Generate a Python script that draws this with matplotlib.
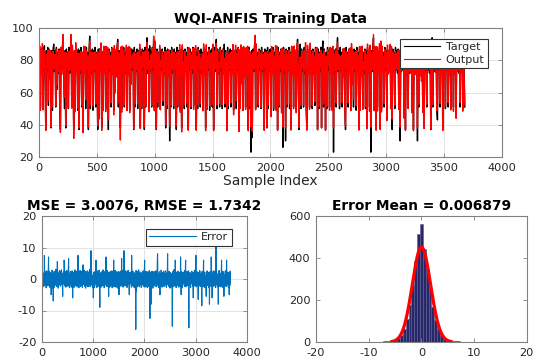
import numpy as np
import matplotlib
matplotlib.use('Agg')
import matplotlib.pyplot as plt

plt.rcParams['font.family'] = ['DejaVu Sans']
plt.rcParams['axes.unicode_minus'] = False

# Target WQI values (one value per ~5.75 samples)
target = [
    80, 87, 51, 86, 73, 88, 50, 85, 89, 72, 37, 86, 74, 88, 52, 87, 71, 85, 38, 86,
    49, 87, 90, 73, 86, 51, 88, 62, 85, 72, 87, 50, 37, 86, 74, 88, 93, 72, 50, 86,
    38, 87, 73, 85, 50, 88, 72, 86, 94, 51, 87, 74, 37, 85, 50, 88, 73, 86, 49, 87,
    37, 86, 72, 88, 51, 85, 38, 87, 73, 86, 50, 88, 74, 85, 37, 87, 95, 50, 86, 72,
    87, 49, 86, 73, 88, 51, 85, 72, 37, 87, 50, 86, 74, 88, 38, 85, 51, 87, 73, 86,
    50, 88, 72, 86, 37, 87, 74, 85, 51, 88, 73, 86, 49, 87, 60, 85, 72, 88, 93, 51,
    86, 73, 38, 87, 50, 86, 74, 88, 51, 85, 72, 87, 50, 86, 73, 88, 49, 85, 66, 87,
    74, 86, 37, 88, 51, 85, 73, 87, 50, 86, 72, 88, 38, 85, 50, 87, 74, 86, 37, 88,
    51, 85, 94, 72, 87, 50, 89, 73, 86, 51, 88, 74, 93, 50, 86, 72, 37, 87, 51, 85,
    73, 88, 50, 86, 74, 87, 52, 85, 72, 88, 38, 86, 50, 87, 73, 85, 30, 86, 51, 88,
    72, 86, 50, 87, 74, 85, 37, 88, 51, 86, 73, 87, 49, 85, 38, 88, 72, 86, 50, 87,
    73, 85, 51, 88, 37, 86, 74, 87, 50, 85, 72, 88, 52, 86, 73, 87, 37, 85, 50, 88,
    74, 86, 51, 87, 72, 85, 50, 88, 73, 86, 38, 87, 50, 85, 74, 88, 49, 86, 72, 87,
    51, 85, 37, 88, 73, 86, 93, 50, 87, 72, 85, 51, 88, 74, 86, 50, 87, 73, 90, 51,
    86, 72, 37, 88, 50, 85, 74, 87, 51, 86, 73, 88, 49, 85, 72, 87, 50, 86, 74, 88,
    38, 85, 51, 87, 73, 86, 50, 88, 72, 85, 51, 87, 74, 86, 37, 88, 50, 85, 23, 86,
    32, 87, 73, 86, 93, 50, 88, 72, 85, 51, 87, 74, 86, 50, 88, 73, 85, 51, 37, 87,
    74, 86, 38, 88, 50, 85, 73, 87, 51, 86, 72, 88, 49, 85, 74, 87, 50, 86, 37, 88,
    51, 85, 73, 87, 50, 86, 26, 88, 72, 85, 30, 87, 51, 86, 74, 88, 50, 85, 37, 87,
    73, 86, 51, 88, 72, 85, 50, 87, 93, 74, 37, 86, 90, 50, 87, 73, 85, 51, 88, 72,
    86, 50, 37, 87, 74, 85, 51, 88, 73, 86, 50, 87, 72, 85, 52, 88, 74, 86, 37, 87,
    50, 85, 73, 88, 38, 86, 92, 51, 87, 72, 37, 85, 50, 88, 74, 86, 51, 87, 73, 85,
    50, 88, 23, 86, 72, 87, 51, 85, 94, 73, 86, 50, 88, 74, 85, 51, 87, 72, 86, 50,
    37, 88, 73, 85, 51, 87, 74, 86, 50, 88, 72, 85, 51, 87, 73, 86, 49, 88, 74, 85,
    37, 87, 50, 86, 73, 88, 51, 85, 72, 87, 50, 86, 38, 88, 74, 85, 51, 87, 23, 86,
    73, 88, 94, 50, 86, 72, 37, 87, 51, 85, 74, 88, 38, 86, 50, 87, 73, 85, 51, 88,
    74, 86, 50, 87, 73, 85, 75, 88, 51, 86, 37, 87, 73, 85, 50, 88, 74, 86, 72, 87,
    51, 85, 30, 87, 73, 86, 74, 88, 50, 85, 37, 87, 73, 86, 51, 88, 72, 85, 74, 87,
    50, 86, 37, 88, 73, 85, 74, 87, 30, 86, 51, 88, 72, 85, 74, 87, 50, 86, 38, 88,
    73, 85, 51, 87, 74, 86, 72, 88, 37, 85, 94, 51, 87, 73, 86, 74, 88, 50, 43, 86,
    74, 87, 51, 85, 73, 88, 37, 86, 72, 87, 50, 85, 74, 88, 51, 86, 73, 87, 50, 85,
    74, 88, 51, 86, 73, 87, 50, 85, 74, 88, 72, 86, 51, 87, 73, 85, 50, 86, 74, 51,
]

# Error (target - output), same sample positions
error = [
    1.2, -1.8, 2.1, -0.9, 1.6, -2.4, 0.8, -1.3, 7.5, -2.0, 0.6, 2.3, -1.5, 1.9, -2.8, 0.4, 2.6, -1.1, -0.7, 1.8,
    -2.2, 1.4, 7.0, -1.6, 2.5, -0.8, 1.1, -2.7, 2.0, -1.2, 0.9, -5.0, 1.7, -2.1, 2.8, -0.5, -3.0, 1.6, -7.0, 0.8,
    -1.4, 2.4, -2.6, 1.0, -0.6, 2.2, -1.9, 3.1, -2.0, 0.7, -2.4, 1.5, 5.5, -1.1, 2.0, -2.9, 0.6, 1.8, -1.7, 2.7,
    -0.9, 1.6, -2.3, 2.5, -1.0, 0.4, 2.9, -1.8, 1.2, -2.5, -5.5, 1.9, -0.7, 2.2, -1.6, 6.0, 3.0, -2.2, 0.9, -1.4,
    2.3, -2.6, 1.1, -0.8, 2.7, -1.9, 0.5, 1.7, -2.3, 2.0, 6.5, -1.2, 0.8, -2.8, 1.5, -0.4, 2.4, -1.7, 1.0, -2.6,
    1.9, -0.6, 2.6, -2.0, -6.0, 1.3, -1.5, 2.1, -2.7, 0.7, 1.8, -1.0, 2.9, -2.2, 0.3, -1.8, 2.4, -0.9, 2.0, -2.5,
    1.4, -2.1, 7.5, -1.3, 2.2, -2.8, 0.6, 1.9, -1.6, 2.7, -0.8, -2.4, 1.2, -1.9, 2.5, -0.5, 1.6, -2.7, 0.9, 4.5,
    -1.7, 2.0, -0.6, 2.8, -2.3, 1.1, -1.4, 2.4, -2.9, 0.7, 1.5, -2.0, 0.4, 2.6, -1.2, 1.8, -2.5, 0.9, -1.6, 2.3,
    -0.8, 1.7, 3.0, -2.4, 1.4, 2.0, 9.0, -1.9, 2.5, -1.1, 0.6, -2.6, -2.0, 1.3, -6.0, 2.1, -0.5, 1.6, -2.8, 1.0,
    2.4, -1.3, 0.8, 6.0, -2.2, 1.5, -2.7, 1.9, -0.6, 2.6, -1.8, 0.5, -2.4, 1.2, 2.8, -1.5, -9.0, 2.0, -1.1, 1.7,
    -2.6, 0.9, -1.7, 2.3, -0.7, 1.6, -2.2, 2.9, -1.4, 0.6, 2.1, -2.8, 1.3, -0.9, 2.5, -1.6, 0.8, 7.0, -2.3, 1.4,
    -1.0, 2.7, -2.4, 1.1, 0.4, -1.8, -5.5, 2.2, -1.3, 1.8, -2.6, 0.7, 2.4, -1.5, 1.0, -2.1, 0.5, 2.6, -2.8, 1.5,
    -0.7, 2.0, -1.9, 6.0, -2.5, 0.9, 1.4, -2.2, 2.7, -0.5, 1.7, -2.6, 0.6, 2.3, -1.4, 1.1, -2.9, 1.9, -0.8, 2.4,
    -1.6, -5.0, 0.7, 2.2, -1.7, 1.3, 2.5, -2.3, 1.6, -0.9, 6.5, -2.0, 1.1, -1.5, 2.8, -2.6, 0.4, 1.8, 9.0, -2.2,
    1.3, -0.6, 0.8, 2.6, -2.1, 1.7, -1.2, 2.3, -2.7, 0.5, 1.9, -1.8, 2.8, -0.9, 1.4, -2.4, -5.0, 2.1, -1.3, 0.6,
    2.2, -1.5, 0.9, -2.6, 7.5, -1.9, 1.2, -0.6, 2.5, -2.3, 1.6, -1.0, 2.0, -2.8, 0.7, 1.5, -2.0, 0.4, -16.0, 2.7,
    -4.0, 1.8, -1.4, 2.4, -2.5, 0.8, -2.2, 1.3, 2.9, -1.7, 0.6, -2.5, 1.9, -0.8, 2.2, -1.6, 1.1, -2.7, 0.5, 2.0,
    -1.9, 1.0, -0.4, 2.6, -2.3, 1.5, -1.1, 2.1, 6.0, -2.6, 0.8, 1.7, -1.5, 2.4, -0.7, -2.2, 1.3, -2.8, 0.6, 2.3,
    -1.2, 1.9, -2.4, 0.7, 2.7, -1.6, -12.5, 1.4, -2.1, 2.2, -8.0, 1.0, -1.7, 2.5, -0.6, 1.6, -2.9, 0.8, 0.3, -1.8,
    2.4, -2.2, 1.1, -0.9, 2.0, -1.4, 2.6, -2.5, 2.0, 0.5, -1.3, 6.0, 8.0, -2.0, 1.5, -2.7, 0.9, -1.2, 2.3, -1.6,
    -5.0, 1.7, 0.4, -2.3, 2.8, -1.1, 1.4, -2.6, 0.7, 2.1, -1.9, 1.2, -0.5, 2.5, -2.4, 0.9, 1.6, -2.0, 0.2, 2.6,
    -1.5, 0.8, -2.7, 1.9, -0.4, 2.2, 8.0, -1.8, 1.0, -2.3, 0.5, 2.4, -1.6, 1.3, -2.9, 0.7, 2.0, -1.1, 1.7, -2.5,
    1.2, -0.7, -15.0, 2.3, -1.9, 0.9, -2.4, 1.5, 3.0, -1.3, 2.6, -2.2, 6.0, -0.8, 1.8, -2.7, 0.6, 2.2, -1.5, 1.0,
    -2.1, 2.5, -1.0, 1.6, -2.6, 0.4, 2.0, -1.7, 1.3, -2.4, 7.0, -0.9, -5.0, 2.4, -1.5, 0.8, -2.8, 1.9, -0.6, 2.2,
    0.3, -1.6, 1.1, -2.3, 2.7, -0.8, 1.5, 6.0, -2.5, 0.9, -1.4, 2.3, 0.6, -2.1, 1.8, -1.2, 2.6, -2.4, -15.5, 1.4,
    -0.9, 2.2, -2.0, 1.3, -2.7, 1.7, 0.4, -1.5, 2.5, -0.6, 1.9, -2.3, 1.0, -6.0, 2.1, -1.8, 0.7, 2.8, -2.2, 1.2,
    -1.7, 0.5, 7.5, -2.5, 1.6, -0.8, 2.3, -1.9, 1.1, -2.6, -6.5, 2.0, -1.0, 1.4, -2.2, 2.7, -0.5, 1.8, -2.4, 0.9,
    1.5, -1.3, -8.5, 2.4, -0.7, 1.9, -2.5, 1.2, 6.0, -2.0, 0.6, -1.6, 2.2, -2.8, 1.0, 0.5, -1.4, -5.5, 2.0, -0.9,
    2.6, -2.1, 0.8, -1.5, 2.1, -2.6, 1.4, -0.6, -8.0, 2.3, -1.8, 0.9, 1.7, -2.3, 7.0, -1.1, 2.5, -6.0, 0.4, 1.8,
    -2.4, 1.1, -1.7, 2.6, -0.8, 1.5, -2.2, 2.0, -0.5, -2.7, 11.0, -1.4, 2.3, -1.9, 0.7, 1.6, -2.5, 1.2, -8.0, 2.2,
    -1.0, 2.7, -2.3, 0.9, 1.8, -1.6, 0.6, -2.5, 2.1, 6.0, -1.2, 2.4, -0.7, 1.5, -2.8, 1.0, 2.3, -5.5, 0.8, -1.9,
    1.4, -2.2, 2.6, -0.9, 1.7, -2.4, 6.0, -1.3, 0.8, 2.2, -1.8, 1.1, -2.6, 2.0, -0.5, -5.0, 1.6, -2.1, 2.5, -1.4,
]
assert len(target) == len(error)

output = [t - e for t, e in zip(target, error)]
sample_index = np.linspace(1, 3680, len(target))

# histogram of the errors (bin number k -> centre k * width), counts
bin_width = 0.54
bin_k = list(range(-30, 21))
bin_counts = [
    1, 1, 0, 0, 0, 0, 0, 1, 0, 0, 0, 0, 0, 1, 1, 2, 2, 3, 4, 5, 7, 11, 20, 35, 62,
    110, 175, 270, 385, 515, 560, 445, 350, 255, 165, 105, 60, 33, 18, 10, 8, 6, 4, 3,
    2, 2, 1, 1, 0, 0, 1,
]
err_mean = 0.006879
err_std = 1.7342
mse = 3.0076

axis_col = '#808080'
text_col = '#262626'

def style(ax, grid=True):
    for s in ax.spines.values():
        s.set_color(axis_col)
        s.set_linewidth(0.8)
    ax.tick_params(direction='in', length=3, width=0.6, color=axis_col,
                   labelsize=8.2, labelcolor=text_col, top=True, right=True, pad=4)
    if grid:
        ax.grid(True, color='#e3e3e3', linewidth=0.7)
        ax.set_axisbelow(True)

fig = plt.figure(figsize=(5.49, 3.6), dpi=100)

# top: target vs output
ax1 = fig.add_axes([0.071, 0.564, 0.843, 0.358])
ax1.plot(sample_index, target, color='black', lw=1.0, label='Target')
ax1.plot(sample_index, output, color='red', lw=1.0, label='Output')
ax1.set_xlim(0, 4000)
ax1.set_ylim(20, 100)
ax1.set_xticks(range(0, 4001, 500))
ax1.set_yticks(range(20, 101, 20))
style(ax1)
ax1.set_title('WQI-ANFIS Training Data', fontsize=9.9, fontweight='bold', pad=4)
ax1.set_xlabel('Sample Index', fontsize=10, color=text_col, labelpad=1)
leg = ax1.legend(loc='upper right', bbox_to_anchor=(0.970, 0.915), fontsize=8,
                 fancybox=False, framealpha=1, edgecolor='#333333', handlelength=3.3,
                 borderpad=0.3, labelspacing=0.2, handletextpad=0.5, borderaxespad=0)
leg.get_frame().set_linewidth(0.8)
for line in leg.get_lines():
    line.set_linewidth(0.8)
for t in leg.get_texts():
    t.set_color(text_col)

# bottom left: error
ax2 = fig.add_axes([0.0765, 0.05, 0.373, 0.35])
ax2.plot(sample_index, error, color='#0072BD', lw=0.8, label='Error')
ax2.set_xlim(0, 4000)
ax2.set_ylim(-20, 20)
ax2.set_xticks(range(0, 4001, 1000))
ax2.set_yticks(range(-20, 21, 10))
style(ax2)
ax2.set_title('MSE = %.4f, RMSE = %.4f' % (mse, err_std), fontsize=9.9,
              fontweight='bold', pad=4)
leg2 = ax2.legend(loc='upper right', bbox_to_anchor=(0.927, 0.897), fontsize=8,
                  fancybox=False, framealpha=1, edgecolor='#333333', handlelength=4.2,
                  borderpad=0.3, handletextpad=0.5, borderaxespad=0)
leg2.get_frame().set_linewidth(0.8)
for line in leg2.get_lines():
    line.set_linewidth(0.8)
for t in leg2.get_texts():
    t.set_color(text_col)

# bottom right: error histogram with normal fit
ax3 = fig.add_axes([0.5756, 0.05, 0.384, 0.35])
centres = np.array(bin_k) * bin_width
ax3.bar(centres, bin_counts, width=bin_width, color='#27276b', edgecolor='#5c5c8a',
        linewidth=0.4)
xs = np.linspace(-5.6, 5.6, 200)
n_total = sum(bin_counts)
pdf = n_total * bin_width / (err_std * np.sqrt(2 * np.pi)) * np.exp(-0.5 * ((xs - err_mean) / err_std) ** 2)
ax3.plot(xs, pdf, color='red', lw=2.3)
ax3.set_xlim(-20, 20)
ax3.set_ylim(0, 600)
ax3.set_xticks(range(-20, 21, 10))
ax3.set_yticks(range(0, 601, 200))
style(ax3, grid=False)
ax3.set_title('Error Mean = %.6f' % err_mean, fontsize=9.9, fontweight='bold', pad=4)

fig.savefig('out.png', dpi=100)
